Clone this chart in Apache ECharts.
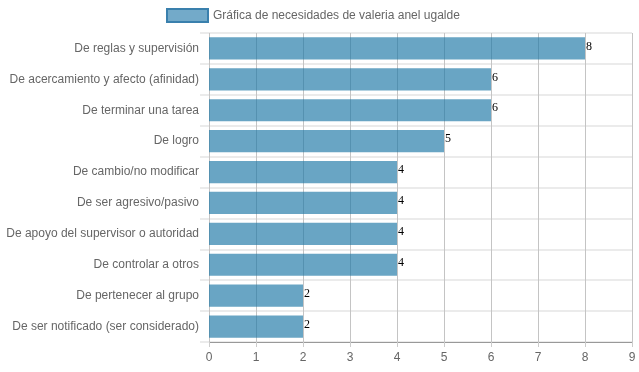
<!DOCTYPE html>
<html>
<head>
<meta charset="utf-8">
<script src="https://cdn.jsdelivr.net/npm/echarts@6/dist/echarts.min.js"></script>
<style>html,body{margin:0;padding:0;background:#fff;}#c{width:639px;height:372px;}</style>
</head>
<body>
<div id="c"></div>
<script>
const categories = [
  "De reglas y supervisión",
  "De acercamiento y afecto (afinidad)",
  "De terminar una tarea",
  "De logro",
  "De cambio/no modificar",
  "De ser agresivo/pasivo",
  "De apoyo del supervisor o autoridad",
  "De controlar a otros",
  "De pertenecer al grupo",
  "De ser notificado (ser considerado)"
];
const values = [8, 6, 6, 5, 4, 4, 4, 4, 2, 2];
const seriesName = "Gráfica de necesidades de valeria anel ugalde";

const chart = echarts.init(document.getElementById('c'), null, {renderer: 'canvas'});
chart.setOption({
  animation: false,
  textStyle: {fontFamily: 'Liberation Sans, Arial, sans-serif'},
  legend: {
    top: 3,
    left: 161,
    itemWidth: 41,
    itemHeight: 13,
    itemGap: 10,
    textStyle: {color: '#666', fontSize: 12},
    data: [{name: seriesName, icon: 'rect', itemStyle: {color: 'rgba(90,155,192,0.85)', borderColor: '#3a80ad', borderWidth: 2}}]
  },
  grid: {left: 209, right: 7, top: 33, bottom: 30, containLabel: false},
  xAxis: {
    type: 'value',
    min: 0, max: 9, interval: 1,
    axisLine: {show: true, lineStyle: {color: '#999'}},
    axisTick: {show: true, length: 5, lineStyle: {color: '#ccc'}},
    axisLabel: {color: '#666', fontSize: 12, margin: 10},
    splitLine: {show: true, lineStyle: {color: '#c4c4c4', width: 1}}
  },
  yAxis: {
    type: 'category',
    inverse: true,
    data: categories,
    axisLine: {show: false},
    axisTick: {show: true, length: 9, lineStyle: {color: '#ebebeb', width: 2}},
    axisLabel: {color: '#666', fontSize: 12, margin: 10},
    splitLine: {show: true, lineStyle: {color: '#ebebeb', width: 2}}
  },
  series: [{
    name: seriesName,
    type: 'bar',
    data: values,
    barCategoryGap: '28%',
    itemStyle: {color: 'rgba(28,118,166,0.66)'},
    label: {
      show: true,
      position: 'right',
      distance: 1,
      offset: [0, -2],
      color: '#000',
      fontFamily: 'Liberation Serif, Times New Roman, serif',
      fontSize: 12
    }
  }]
});
</script>
</body>
</html>
